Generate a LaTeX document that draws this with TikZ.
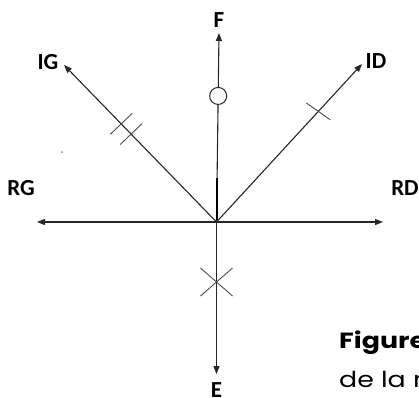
\documentclass[tikz,border=0pt]{standalone}
\usepackage{fontspec}
\newfontfamily\labfont{Carlito}
\newfontfamily\capfont[FakeStretch=1.22]{Poppins}
\usetikzlibrary{arrows.meta,calc}
\begin{document}
\begin{tikzpicture}[x=1pt,y=-1pt,
  axis/.style={draw=black!85,line width=1.1pt,-{Triangle[length=8pt,width=6pt]}},
  tickmark/.style={draw=black!70,line width=0.9pt},
  lab/.style={font=\labfont\bfseries\fontsize{23}{23}\selectfont,inner sep=0pt,text=black}]
\useasboundingbox (0,0) rectangle (419,397);
\coordinate (O) at (216.5,222);
\coordinate (Ftip) at (219,33);
\coordinate (IGtip) at (64,65);
\coordinate (IDtip) at (362,64);
\coordinate (RGtip) at (37,222);
\coordinate (RDtip) at (383,222);
\coordinate (Etip) at (216.5,374);
% labels
\node[lab] (F) at (219,20) {F};
\node[lab] (IG) at (48,62) {IG};
\node[lab] (ID) at (376,61) {ID};
\node[lab] (RG) at (21,188) {RG};
\node[lab] (RD) at (405,188) {RD};
\node[lab,anchor=north] (E) at (216.5,382) {E};
% axes
\draw[axis] (O) -- (RGtip);
\draw[axis] (O) -- (RDtip);
\draw[axis] (O) -- (Etip);
\draw[axis] (O) -- (IGtip);
\draw[axis] (O) -- (IDtip);
\draw[axis] (O) -- (Ftip);
\draw[draw=black,line width=2.2pt] (217,178) -- (217,220);
% circle on F axis
\node[circle,draw=black!85,fill=white,line width=1pt,minimum size=17pt,inner sep=0pt] (circ) at ($(O)!0.667!(Ftip)$) {};
% double ticks on IG
\foreach \t in {0.56,0.625}{
  \draw[tickmark] ($(O)!\t!(IGtip)$) ++(-11,10.5) -- ++(22,-21);
}
% single tick on ID
\draw[tickmark] ($(O)!0.70!(IDtip)$) ++(-12,-8.5) -- ++(24,17);
% cross on E axis
\draw[tickmark] (216.5,282) ++(-16,-14) -- ++(32,28);
\draw[tickmark] (216.5,282) ++(16,-14) -- ++(-32,28);
% stray dot
\fill[black!45] (62,152) circle (1pt);
% caption (cut off)
\node[anchor=north west,inner sep=0pt,font=\capfont\bfseries\fontsize{22}{22}\selectfont] (cap1) at (339,331) {Figure};
\node[anchor=north west,inner sep=0pt,font=\capfont\fontsize{22}{22}\selectfont] (cap2) at (339,371) {de la m};
\end{tikzpicture}
\end{document}
